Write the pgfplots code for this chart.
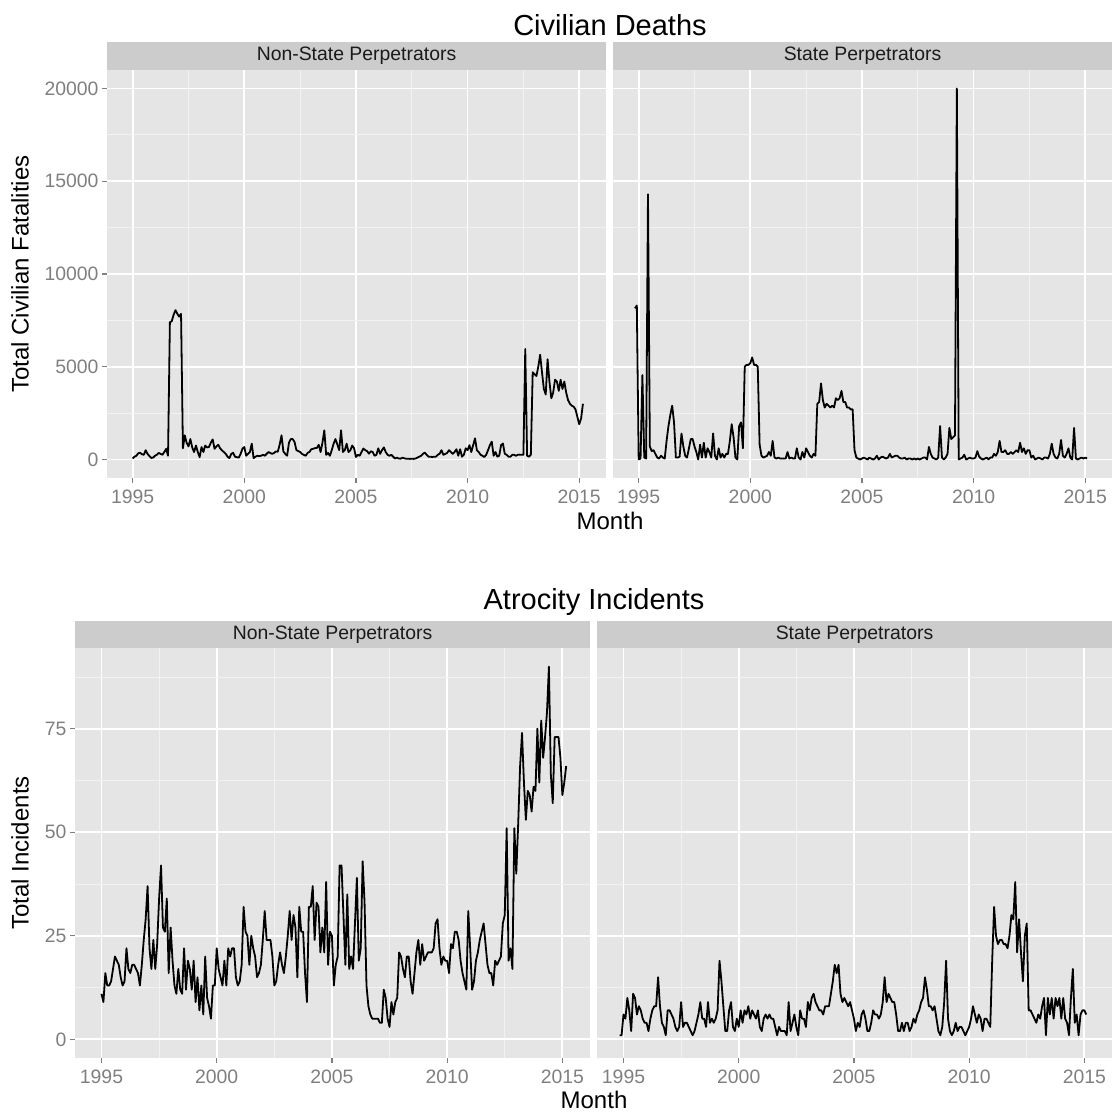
\documentclass[border=0pt]{standalone}
\usepackage{fontspec}
\setmainfont{Liberation Sans}
\usepackage{pgfplots}
\usepackage{pgfplotstable}
\pgfplotsset{compat=1.18}

\definecolor{grey90}{HTML}{E5E5E5}
\definecolor{grey80}{HTML}{CCCCCC}
\definecolor{grey95}{HTML}{F2F2F2}
\definecolor{grey50}{HTML}{7F7F7F}
\definecolor{grey10}{HTML}{1A1A1A}

\newcommand\ticksize{\fontsize{19.4}{23}\selectfont}
\newcommand\labsize{\fontsize{24}{28}\selectfont}
\newcommand\titsize{\fontsize{29}{34}\selectfont}

% monthly values, Jan 1995 - Mar 2015
\pgfplotstableread[row sep=\\]{
y\\
50\\ 150\\ 200\\ 330\\ 360\\ 280\\ 250\\ 500\\ 300\\ 180\\ 80\\ 100\\
200\\ 250\\ 350\\ 300\\ 250\\ 400\\ 570\\ 200\\ 7400\\ 7450\\ 7800\\ 8050\\
7850\\ 7700\\ 7850\\ 600\\ 1300\\ 900\\ 700\\ 1100\\ 650\\ 400\\ 750\\ 400\\
120\\ 670\\ 400\\ 750\\ 650\\ 670\\ 900\\ 1080\\ 576\\ 700\\ 790\\ 600\\
490\\ 400\\ 300\\ 150\\ 70\\ 300\\ 360\\ 150\\ 120\\ 100\\ 300\\ 576\\
670\\ 200\\ 300\\ 400\\ 850\\ 70\\ 150\\ 200\\ 180\\ 200\\ 250\\ 200\\
300\\ 400\\ 350\\ 300\\ 350\\ 430\\ 420\\ 800\\ 1300\\ 430\\ 300\\ 200\\
900\\ 1100\\ 1100\\ 940\\ 500\\ 450\\ 400\\ 300\\ 250\\ 200\\ 350\\ 400\\
550\\ 576\\ 610\\ 620\\ 790\\ 400\\ 900\\ 1570\\ 250\\ 350\\ 200\\ 500\\
850\\ 1100\\ 800\\ 500\\ 1570\\ 400\\ 500\\ 850\\ 400\\ 500\\ 750\\ 600\\
130\\ 250\\ 200\\ 400\\ 590\\ 500\\ 450\\ 310\\ 440\\ 400\\ 200\\ 250\\
600\\ 300\\ 500\\ 650\\ 400\\ 250\\ 200\\ 250\\ 150\\ 50\\ 100\\ 50\\
40\\ 100\\ 60\\ 40\\ 40\\ 30\\ 40\\ 30\\ 50\\ 100\\ 150\\ 200\\
300\\ 370\\ 250\\ 150\\ 150\\ 130\\ 150\\ 150\\ 250\\ 310\\ 500\\ 250\\
300\\ 350\\ 500\\ 400\\ 300\\ 400\\ 550\\ 200\\ 550\\ 150\\ 250\\ 600\\
500\\ 770\\ 400\\ 770\\ 1140\\ 500\\ 400\\ 250\\ 200\\ 130\\ 250\\ 500\\
770\\ 960\\ 200\\ 400\\ 150\\ 200\\ 770\\ 860\\ 300\\ 250\\ 150\\ 150\\
250\\ 250\\ 200\\ 250\\ 260\\ 250\\ 250\\ 5960\\ 200\\ 150\\ 250\\ 4700\\
4600\\ 4500\\ 5000\\ 5650\\ 4700\\ 3800\\ 3500\\ 5400\\ 4200\\ 3300\\ 3600\\ 4300\\
4200\\ 3700\\ 4300\\ 3800\\ 4200\\ 3600\\ 3200\\ 3000\\ 2900\\ 2850\\ 2700\\ 2300\\
1900\\ 2200\\ 3000\\
}\nsdeaths

% monthly values, Nov 1994 - Feb 2015
\pgfplotstableread[row sep=\\]{
y\\
8150\\ 8300\\
0\\ 50\\ 4550\\ 100\\ 50\\ 14300\\ 700\\ 450\\ 500\\ 300\\ 100\\ 50\\
200\\ 100\\ 50\\ 1000\\ 1800\\ 2400\\ 2900\\ 2000\\ 100\\ 100\\ 150\\ 1400\\
700\\ 200\\ 100\\ 600\\ 1100\\ 1100\\ 700\\ 400\\ 0\\ 800\\ 100\\ 900\\
100\\ 600\\ 400\\ 100\\ 1400\\ 200\\ 0\\ 600\\ 100\\ 300\\ 100\\ 300\\
300\\ 1000\\ 1900\\ 1200\\ 100\\ 0\\ 1800\\ 2000\\ 600\\ 5000\\ 5100\\ 5100\\
5200\\ 5500\\ 5100\\ 5100\\ 5000\\ 800\\ 200\\ 100\\ 150\\ 200\\ 400\\ 200\\
1000\\ 100\\ 50\\ 100\\ 50\\ 50\\ 50\\ 50\\ 400\\ 50\\ 100\\ 50\\
50\\ 600\\ 100\\ 0\\ 400\\ 100\\ 600\\ 400\\ 200\\ 100\\ 300\\ 200\\
3000\\ 3100\\ 4100\\ 3200\\ 2800\\ 3000\\ 2900\\ 2800\\ 2900\\ 2800\\ 3300\\ 3200\\
3300\\ 3700\\ 3100\\ 3100\\ 2800\\ 2800\\ 2700\\ 2700\\ 500\\ 100\\ 50\\ 0\\
50\\ 100\\ 50\\ 0\\ 100\\ 50\\ 0\\ 50\\ 200\\ 0\\ 100\\ 150\\
100\\ 50\\ 100\\ 300\\ 100\\ 150\\ 200\\ 200\\ 100\\ 50\\ 50\\ 100\\
0\\ 50\\ 50\\ 0\\ 50\\ 0\\ 50\\ 0\\ 50\\ 100\\ 100\\ 0\\
670\\ 300\\ 100\\ 50\\ 0\\ 100\\ 1800\\ 100\\ 0\\ 100\\ 300\\ 1700\\
1100\\ 1200\\ 1300\\ 20000\\ 0\\ 50\\ 100\\ 250\\ 0\\ 50\\ 100\\ 50\\
50\\ 100\\ 450\\ 150\\ 50\\ 0\\ 50\\ 100\\ 0\\ 100\\ 100\\ 300\\
200\\ 400\\ 1000\\ 400\\ 400\\ 500\\ 300\\ 300\\ 400\\ 300\\ 400\\ 500\\
400\\ 900\\ 400\\ 600\\ 300\\ 500\\ 500\\ 100\\ 200\\ 0\\ 50\\ 100\\
50\\ 0\\ 100\\ 100\\ 50\\ 300\\ 850\\ 300\\ 100\\ 50\\ 300\\ 1050\\
200\\ 100\\ 300\\ 600\\ 100\\ 0\\ 1700\\ 50\\ 0\\ 50\\ 100\\ 50\\
100\\ 50\\
}\stdeaths

% monthly values, Jan 1995 - Mar 2015
\pgfplotstableread[row sep=\\]{
y\\
11\\ 9\\ 16\\ 13\\ 13\\ 14\\ 17\\ 20\\ 19\\ 18\\ 15\\ 13\\
14\\ 22\\ 17\\ 16\\ 18\\ 18\\ 17\\ 16\\ 13\\ 18\\ 24\\ 29\\
37\\ 22\\ 17\\ 24\\ 17\\ 23\\ 34\\ 42\\ 27\\ 26\\ 34\\ 16\\
27\\ 19\\ 13\\ 11\\ 17\\ 12\\ 11\\ 22\\ 12\\ 19\\ 17\\ 12\\
19\\ 9\\ 15\\ 7\\ 13\\ 6\\ 20\\ 10\\ 8\\ 5\\ 13\\ 13\\
22\\ 17\\ 15\\ 13\\ 19\\ 13\\ 22\\ 20\\ 22\\ 22\\ 15\\ 13\\
14\\ 18\\ 32\\ 26\\ 25\\ 18\\ 25\\ 22\\ 20\\ 15\\ 16\\ 18\\
24\\ 31\\ 24\\ 24\\ 24\\ 20\\ 13\\ 14\\ 18\\ 21\\ 18\\ 16\\
20\\ 25\\ 31\\ 24\\ 30\\ 27\\ 15\\ 32\\ 26\\ 26\\ 16\\ 9\\
32\\ 32\\ 37\\ 24\\ 33\\ 32\\ 21\\ 27\\ 21\\ 38\\ 18\\ 26\\
25\\ 13\\ 18\\ 20\\ 42\\ 42\\ 30\\ 18\\ 35\\ 17\\ 20\\ 17\\
28\\ 39\\ 19\\ 22\\ 43\\ 33\\ 13\\ 8\\ 6\\ 5\\ 5\\ 5\\
5\\ 4\\ 4\\ 12\\ 10\\ 5\\ 3\\ 9\\ 6\\ 9\\ 10\\ 21\\
20\\ 17\\ 15\\ 20\\ 20\\ 14\\ 11\\ 16\\ 21\\ 24\\ 18\\ 23\\
19\\ 20\\ 21\\ 21\\ 21\\ 22\\ 28\\ 29\\ 22\\ 18\\ 20\\ 19\\
19\\ 16\\ 23\\ 22\\ 26\\ 26\\ 24\\ 19\\ 16\\ 14\\ 12\\ 31\\
22\\ 12\\ 14\\ 19\\ 21\\ 24\\ 26\\ 28\\ 23\\ 18\\ 16\\ 16\\
13\\ 19\\ 18\\ 19\\ 20\\ 28\\ 30\\ 51\\ 19\\ 22\\ 17\\ 51\\
40\\ 52\\ 66\\ 74\\ 62\\ 53\\ 60\\ 59\\ 55\\ 61\\ 60\\ 75\\
62\\ 77\\ 68\\ 73\\ 79\\ 90\\ 64\\ 57\\ 73\\ 73\\ 73\\ 68\\
59\\ 62\\ 66\\
}\nsinc

% monthly values, Nov 1994 - Feb 2015
\pgfplotstableread[row sep=\\]{
y\\
1\\ 1\\
6\\ 5\\ 10\\ 7\\ 2\\ 11\\ 10\\ 6\\ 8\\ 7\\ 5\\ 4\\
4\\ 2\\ 5\\ 7\\ 8\\ 8\\ 15\\ 8\\ 4\\ 3\\ 1\\ 7\\
7\\ 6\\ 5\\ 3\\ 2\\ 3\\ 9\\ 3\\ 4\\ 4\\ 3\\ 2\\
1\\ 2\\ 4\\ 6\\ 9\\ 5\\ 5\\ 3\\ 9\\ 4\\ 5\\ 4\\
5\\ 7\\ 19\\ 14\\ 8\\ 2\\ 2\\ 7\\ 9\\ 3\\ 2\\ 5\\
3\\ 7\\ 4\\ 7\\ 6\\ 8\\ 5\\ 7\\ 6\\ 5\\ 7\\ 3\\
2\\ 5\\ 6\\ 5\\ 6\\ 5\\ 5\\ 3\\ 1\\ 3\\ 2\\ 2\\
2\\ 1\\ 9\\ 2\\ 4\\ 6\\ 3\\ 1\\ 7\\ 5\\ 5\\ 3\\
9\\ 7\\ 10\\ 11\\ 9\\ 8\\ 7\\ 7\\ 6\\ 8\\ 8\\ 8\\
11\\ 14\\ 18\\ 16\\ 18\\ 11\\ 9\\ 10\\ 9\\ 8\\ 9\\ 7\\
5\\ 2\\ 4\\ 3\\ 6\\ 7\\ 5\\ 2\\ 2\\ 4\\ 7\\ 6\\
6\\ 5\\ 6\\ 9\\ 15\\ 9\\ 11\\ 10\\ 9\\ 9\\ 6\\ 2\\
2\\ 4\\ 2\\ 4\\ 4\\ 2\\ 3\\ 5\\ 4\\ 6\\ 7\\ 9\\
10\\ 15\\ 12\\ 8\\ 8\\ 7\\ 8\\ 5\\ 2\\ 1\\ 3\\ 9\\
19\\ 5\\ 2\\ 1\\ 2\\ 4\\ 2\\ 3\\ 3\\ 2\\ 1\\ 2\\
3\\ 5\\ 8\\ 6\\ 4\\ 6\\ 5\\ 2\\ 5\\ 5\\ 4\\ 3\\
19\\ 32\\ 25\\ 23\\ 24\\ 24\\ 23\\ 23\\ 22\\ 25\\ 30\\ 29\\
38\\ 21\\ 29\\ 21\\ 14\\ 25\\ 28\\ 7\\ 7\\ 6\\ 5\\ 4\\
6\\ 5\\ 8\\ 10\\ 1\\ 10\\ 6\\ 10\\ 5\\ 10\\ 8\\ 10\\
5\\ 10\\ 5\\ 4\\ 1\\ 10\\ 17\\ 4\\ 6\\ 1\\ 6\\ 7\\
7\\ 6\\
}\stinc

\pgfplotsset{
  facet/.style={
    scale only axis, anchor=south west,
    axis background/.style={fill=grey90},
    axis line style={draw=none},
    xmin=1993.85, xmax=2016.2,
    xtick={1995,2000,2005,2010,2015},
    xticklabels={1995,2000,2005,2010,2015},
    minor xtick={1997.5,2002.5,2007.5,2012.5},
    scaled x ticks=false, scaled y ticks=false,
    grid=both,
    major grid style={white, line width=1.8pt},
    minor grid style={grey95, line width=0.9pt},
    tick align=outside, xtick pos=bottom, ytick pos=left,
    major tick length=5pt, minor tick length=0pt,
    tick style={grey50, line width=1.2pt},
    tick label style={font=\ticksize, color=grey50},
    xticklabel style={yshift=-3pt},
  },
  deaths/.style={facet, width=499pt, height=408pt,
    ymin=-1000, ymax=21000,
    ytick={0,5000,10000,15000,20000},
    yticklabels={0,5000,10000,15000,20000},
    minor ytick={2500,7500,12500,17500}},
  incid/.style={facet, width=515pt, height=410pt,
    ymin=-4.5, ymax=94.5,
    ytick={0,25,50,75}, yticklabels={0,25,50,75},
    minor ytick={12.5,37.5,62.5,87.5}},
  noy/.style={yticklabels={}, ytick style={draw=none}},
  series/.style={black, line width=1.8pt, line join=round, mark=none},
}

\begin{document}
\begin{tikzpicture}
\useasboundingbox (0,0) rectangle (1115pt,1113pt);

% ---- Civilian Deaths ----
\begin{axis}[deaths, at={(107pt,635pt)}]
\addplot[series] table[x expr={1995+\coordindex/12}, y=y] {\nsdeaths};
\end{axis}
\begin{axis}[deaths, noy, at={(613pt,635pt)}]
\addplot[series] table[x expr={1994.8333+\coordindex/12}, y=y] {\stdeaths};
\end{axis}
\fill[grey80] (107pt,1043pt) rectangle (606pt,1071pt);
\fill[grey80] (613pt,1043pt) rectangle (1112pt,1071pt);
\node[font=\ticksize, text=grey10] at (356.5pt,1057pt) {Non-State Perpetrators};
\node[font=\ticksize, text=grey10] at (862.5pt,1057pt) {State Perpetrators};
\node[font=\titsize] at (610pt,1088pt) {Civilian Deaths};
\node[font=\labsize] at (610pt,592pt) {Month};
\node[font=\labsize, rotate=90] at (20pt,839pt) {Total Civilian Fatalities};

% ---- Atrocity Incidents ----
\begin{axis}[incid, at={(75pt,55pt)}]
\addplot[series] table[x expr={1995+\coordindex/12}, y=y] {\nsinc};
\end{axis}
\begin{axis}[incid, noy, at={(597pt,55pt)}]
\addplot[series] table[x expr={1994.8333+\coordindex/12}, y=y] {\stinc};
\end{axis}
\fill[grey80] (75pt,465pt) rectangle (590pt,492pt);
\fill[grey80] (597pt,465pt) rectangle (1112pt,492pt);
\node[font=\ticksize, text=grey10] at (332.5pt,478.5pt) {Non-State Perpetrators};
\node[font=\ticksize, text=grey10] at (854.5pt,478.5pt) {State Perpetrators};
\node[font=\titsize] at (594pt,511pt) {Atrocity Incidents};
\node[font=\labsize] at (594pt,13pt) {Month};
\node[font=\labsize, rotate=90] at (20pt,260pt) {Total Incidents};
\end{tikzpicture}
\end{document}
